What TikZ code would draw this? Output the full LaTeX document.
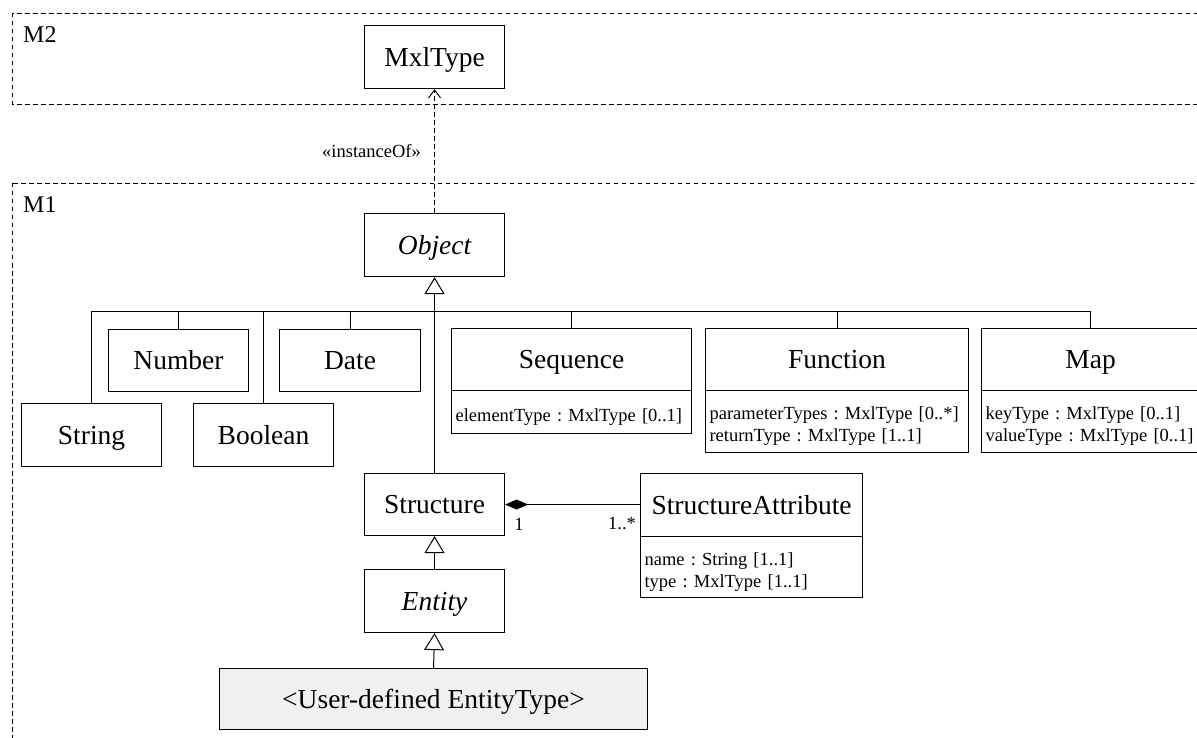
\documentclass[tikz,border=0pt]{standalone}
\usepackage{fontspec}
\setmainfont{Liberation Serif}
\usetikzlibrary{arrows.meta}
\frenchspacing
\begin{document}
\begin{tikzpicture}[x=1pt,y=-1pt,
  cls/.style={draw, line width=1.1pt, inner sep=0pt, anchor=north west,
    text height=22pt, text depth=4pt, font=\fontsize{27.5}{32}\selectfont},
  abstractcls/.style={cls, font=\fontsize{27.5}{32}\selectfont\itshape},
  attrs/.style={draw, line width=1.1pt, inner xsep=4pt, inner ysep=0pt,
    anchor=north west, align=left, font=\fontsize{18.5}{22}\selectfont,
    execute at begin node={\rule{0pt}{22pt}}},
  pkg/.style={draw, line width=0.9pt, dash pattern=on 4.5pt off 3.5pt},
  pkglabel/.style={anchor=west, inner sep=0pt, font=\fontsize{24}{28}\selectfont},
  link/.style={line width=1pt},
  gen/.style={link, -{Triangle[open, length=17pt, width=20pt, line width=1pt]}},
  small/.style={inner sep=0pt, font=\fontsize{18.5}{22}\selectfont}
]
\useasboundingbox (0,0) rectangle (1197,738);
\clip (0,0) rectangle (1197,738);

% package frames
\draw[pkg] (12,13) rectangle (1230,104);
\draw[pkg] (12,183) rectangle (1230,780);
\node[pkglabel] (lblM2) at (23,35) {M2};
\node[pkglabel] (lblM1) at (23,205) {M1};

% M2
\node[cls, minimum width=140pt, minimum height=63pt] (mxl) at (364,25) {MxlType};

% M1 classes
\node[abstractcls, minimum width=140pt, minimum height=63pt] (obj) at (364,213) {Object};

\node[cls, minimum width=140pt, minimum height=62pt] (num) at (108,329) {Number};
\node[cls, minimum width=140pt, minimum height=63pt] (str) at (21,403) {String};
\node[cls, minimum width=140pt, minimum height=63pt] (bool) at (193,403) {Boolean};
\node[cls, minimum width=141pt, minimum height=62pt] (date) at (279,329) {Date};

\node[cls, minimum width=240pt, minimum height=62pt] (seqH) at (451,328) {Sequence};
\node[attrs, text width=232pt, minimum height=43pt] (seqA) at (451,390) {elementType : MxlType [0..1]};

\node[cls, minimum width=263pt, minimum height=62pt] (funH) at (705,328) {Function};
\node[attrs, text width=255pt, minimum height=62pt] (funA) at (705,390)
  {parameterTypes : MxlType [0..*]\\returnType : MxlType [1..1]};

\node[cls, minimum width=218pt, minimum height=62pt] (mapH) at (981,328) {Map};
\node[attrs, text width=210pt, minimum height=62pt] (mapA) at (981,390)
  {keyType : MxlType [0..1]\\valueType : MxlType [0..1]};

\node[cls, minimum width=140pt, minimum height=62pt] (struct) at (364,473) {Structure};
\node[cls, minimum width=222pt, minimum height=63pt] (saH) at (640,473) {StructureAttribute};
\node[attrs, text width=214pt, minimum height=61pt] (saA) at (640,536)
  {name : String [1..1]\\type : MxlType [1..1]};

\node[abstractcls, minimum width=140pt, minimum height=63pt] (ent) at (364,569) {Entity};
\node[cls, fill=black!6, minimum width=428pt, minimum height=61pt] (user) at (219,668) {<User-defined EntityType>};

% instanceOf dependency
\draw[link, dash pattern=on 4.5pt off 3.5pt, -{Straight Barb[length=8pt, width=12pt]}] (obj.north) -- (mxl.south);
\node[small, anchor=east] (io) at (421,151) {«instanceOf»};

% generalization tree under Object
\coordinate (bus) at (434,311);
\draw[gen] (struct.north) -- (obj.south);
\draw[link] (str.north) |- (mapH.north |- bus) -- (mapH.north);
\draw[link] (num.north) -- (num.north |- bus);
\draw[link] (bool.north) -- (bool.north |- bus);
\draw[link] (date.north) -- (date.north |- bus);
\draw[link] (seqH.north) -- (seqH.north |- bus);
\draw[link] (funH.north) -- (funH.north |- bus);

\draw[gen] (ent.north) -- (struct.south);
\draw[gen] (user.north) -- (ent.south);

% composition
\draw[link, {Diamond[length=23pt, width=10pt]}-] (struct.east) -- (struct.east -| saH.west);
\node[small] (mOne) at (519,524) {1};
\node[small] (mMany) at (622,524) {1..*};
\end{tikzpicture}
\end{document}
